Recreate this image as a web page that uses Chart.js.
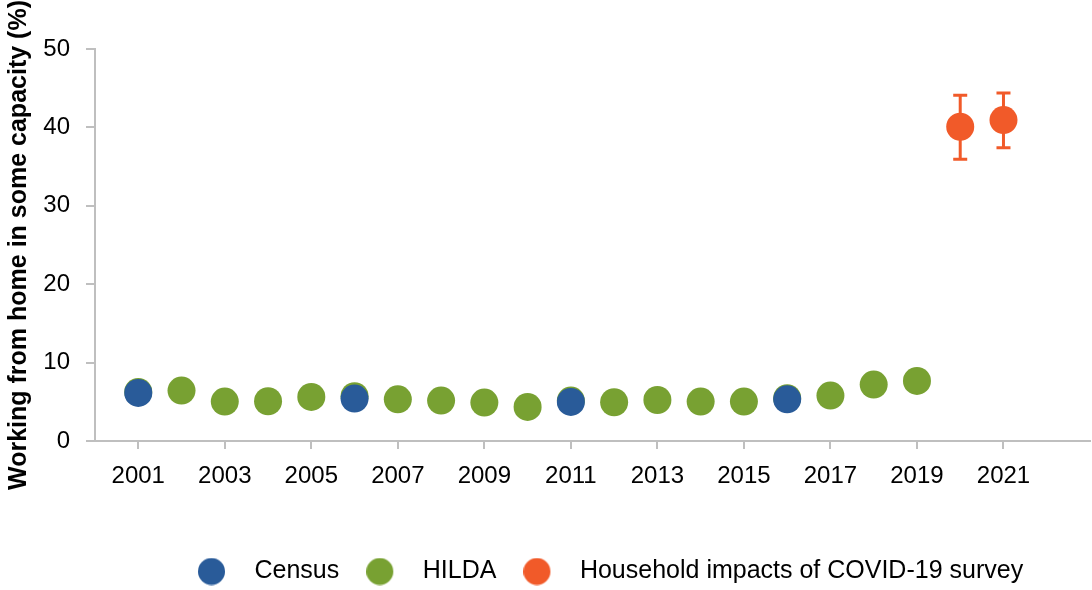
<!DOCTYPE html>
<html>
<head>
<meta charset="utf-8">
<script src="https://cdn.jsdelivr.net/npm/chart.js@4/dist/chart.umd.min.js"></script>
<style>
  html, body { margin: 0; padding: 0; background: #ffffff; }
  #wrap { width: 1092px; height: 590px; position: relative; }
</style>
</head>
<body>
<div id="wrap"><canvas id="c" width="1092" height="590"></canvas></div>
<script>
// ---- Data ----
const censusYears = [2001, 2006, 2011, 2016];
const censusValues = [6.13, 5.41, 4.98, 5.32];

const hildaYears = [2001, 2002, 2003, 2004, 2005, 2006, 2007, 2008, 2009, 2010,
                    2011, 2012, 2013, 2014, 2015, 2016, 2017, 2018, 2019];
const hildaValues = [6.25, 6.43, 5.03, 5.07, 5.62, 5.71, 5.32, 5.16, 4.90, 4.34,
                     5.15, 4.94, 5.23, 5.03, 5.03, 5.45, 5.80, 7.20, 7.66];

const covidYears = [2020, 2021];
const covidValues = [40.08, 40.94];
const covidLow = [35.95, 37.4];
const covidHigh = [44.1, 44.4];

const xTickValues = [2001, 2003, 2005, 2007, 2009, 2011, 2013, 2015, 2017, 2019, 2021];
const xTickLabels = ['2001', '2003', '2005', '2007', '2009', '2011', '2013', '2015', '2017', '2019', '2021'];
const yTickValues = [0, 10, 20, 30, 40, 50];

const seriesLabels = ['Census', 'HILDA', 'Household impacts of COVID-19 survey'];
const yTitle = 'Working from home in some capacity (%)';

// ---- Styles ----
const COLORS = ['#295B99', '#78A132', '#F15A29'];
const AXIS_COLOR = '#BFBFBF';
const FONT = "'Liberation Sans', Arial, sans-serif";

function toPoints(xs, ys) { return xs.map((x, i) => ({ x: x, y: ys[i] })); }

function legendDot(color) {
  const cv = document.createElement('canvas');
  cv.width = 44; cv.height = 28;
  const g = cv.getContext('2d');
  g.fillStyle = color;
  g.beginPath();
  g.arc(13.5, 14, 13.5, 0, Math.PI * 2);
  g.fill();
  return cv;
}
const legendDots = COLORS.map(legendDot);

const errorBarPlugin = {
  id: 'errorBars',
  beforeDatasetsDraw(chart) {
    const xs = chart.scales.x, ys = chart.scales.y;
    const ctx = chart.ctx;
    ctx.save();
    ctx.strokeStyle = COLORS[2];
    ctx.lineWidth = 3;
    covidYears.forEach((yr, i) => {
      const px = xs.getPixelForValue(yr);
      const pLo = ys.getPixelForValue(covidLow[i]);
      const pHi = ys.getPixelForValue(covidHigh[i]);
      ctx.beginPath();
      ctx.moveTo(px, pLo); ctx.lineTo(px, pHi);
      ctx.moveTo(px - 7, pLo); ctx.lineTo(px + 7, pLo);
      ctx.moveTo(px - 7, pHi); ctx.lineTo(px + 7, pHi);
      ctx.stroke();
    });
    ctx.restore();
  }
};

const LEGEND_START = 198;
const legendShiftPlugin = {
  id: 'legendShift',
  afterLayout(chart) {
    const lg = chart.legend;
    if (lg) { lg.left = LEGEND_START - lg.options.labels.padding; }
  }
};

const ds = (label, data, color) => ({
  label: label,
  data: data,
  backgroundColor: color,
  borderColor: color,
  borderWidth: 0,
  pointRadius: 14,
  pointHoverRadius: 14,
  showLine: false
});

new Chart(document.getElementById('c'), {
  type: 'scatter',
  data: {
    datasets: [
      ds(seriesLabels[0], toPoints(censusYears, censusValues), COLORS[0]),
      ds(seriesLabels[1], toPoints(hildaYears, hildaValues), COLORS[1]),
      ds(seriesLabels[2], toPoints(covidYears, covidValues), COLORS[2])
    ]
  },
  plugins: [errorBarPlugin, legendShiftPlugin],
  options: {
    responsive: false,
    animation: false,
    events: [],
    layout: { autoPadding: false, padding: { top: 49, left: 0, right: 2, bottom: -4 } },
    plugins: {
      tooltip: { enabled: false },
      legend: {
        position: 'bottom',
        align: 'start',
        labels: {
          usePointStyle: true,
          pointStyleWidth: 44,
          padding: 27,
          color: '#000',
          font: { family: FONT, size: 25 },
          generateLabels(chart) {
            return chart.data.datasets.map((d, i) => ({
              text: d.label,
              fillStyle: COLORS[i],
              strokeStyle: COLORS[i],
              lineWidth: 0,
              pointStyle: legendDots[i],
              hidden: false,
              datasetIndex: i
            }));
          }
        }
      }
    },
    scales: {
      x: {
        type: 'linear',
        min: 2000,
        max: 2023,
        afterBuildTicks(scale) { scale.ticks = xTickValues.map(v => ({ value: v })); },
        afterFit(scale) { scale.height = 91; scale.paddingLeft = 0; scale.paddingRight = 0; },
        grid: { drawOnChartArea: false, drawTicks: true, tickLength: 8, color: AXIS_COLOR, lineWidth: 2 },
        border: { display: true, color: AXIS_COLOR, width: 2 },
        ticks: {
          autoSkip: false,
          maxRotation: 0,
          padding: 13,
          color: '#000',
          font: { family: FONT, size: 24 },
          callback: (v, i) => xTickLabels[i]
        }
      },
      y: {
        type: 'linear',
        min: 0,
        max: 50,
        afterBuildTicks(scale) { scale.ticks = yTickValues.map(v => ({ value: v })); },
        afterFit(scale) { scale.width = 95; },
        grid: { drawOnChartArea: false, drawTicks: true, tickLength: 9, color: AXIS_COLOR, lineWidth: 2 },
        border: { display: true, color: AXIS_COLOR, width: 2 },
        ticks: {
          padding: 16,
          color: '#000',
          font: { family: FONT, size: 24 },
          callback: v => String(v)
        },
        title: {
          display: true,
          text: yTitle,
          color: '#000',
          padding: { top: 4, bottom: 0 },
          font: { family: FONT, size: 25, weight: 'bold' }
        }
      }
    }
  }
});
</script>
</body>
</html>
